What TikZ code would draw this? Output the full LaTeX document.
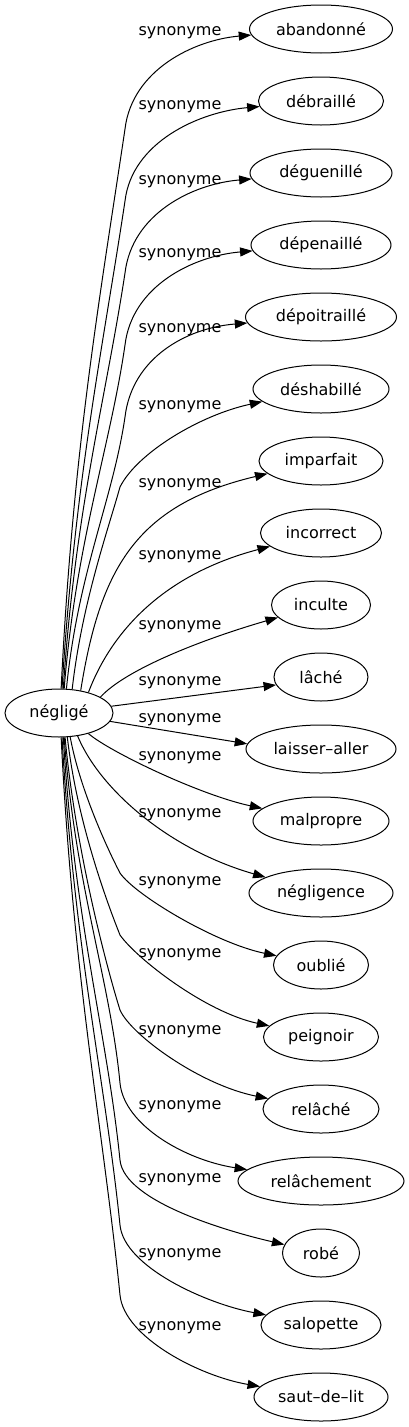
\documentclass[tikz,border=0pt]{standalone}
\usepackage{fontspec}
\setmainfont{DejaVu Sans}
\usetikzlibrary{shapes.geometric,arrows.meta}
\begin{document}
\begin{tikzpicture}[x=1pt,y=-1pt,
  box/.style={draw, ellipse, line width=1pt, minimum height=48pt, inner sep=0pt, font=\fontsize{16}{19}\selectfont},
  lbl/.style={inner sep=0pt, font=\fontsize{16}{19}\selectfont},
  syn/.style={draw, line width=1pt, -{Triangle[length=12.5pt,width=9pt]}}]
\useasboundingbox (0,0) rectangle (409,1427);
% central node
\node[box, minimum width=108pt] (neg) at (59,713) {négligé};
% targets
\node[box, minimum width=143pt] (t0)  at (321,29)   {abandonné};
\node[box, minimum width=125pt] (t1)  at (321,101)  {débraillé};
\node[box, minimum width=142pt] (t2)  at (321,173)  {déguenillé};
\node[box, minimum width=140pt] (t3)  at (321,245)  {dépenaillé};
\node[box, minimum width=151pt] (t4)  at (321,317)  {dépoitraillé};
\node[box, minimum width=136pt] (t5)  at (321,389)  {déshabillé};
\node[box, minimum width=124pt] (t6)  at (321,461)  {imparfait};
\node[box, minimum width=121pt] (t7)  at (321,533)  {incorrect};
\node[box, minimum width=99pt]  (t8)  at (321,605)  {inculte};
\node[box, minimum width=94pt]  (t9)  at (321,677)  {lâché};
\node[box, minimum width=150pt] (t10) at (321,749)  {laisser–aller};
\node[box, minimum width=136pt] (t11) at (321,821)  {malpropre};
\node[box, minimum width=144pt] (t12) at (321,893)  {négligence};
\node[box, minimum width=95pt]  (t13) at (321,965)  {oublié};
\node[box, minimum width=115pt] (t14) at (321,1037) {peignoir};
\node[box, minimum width=116pt] (t15) at (321,1109) {relâché};
\node[box, minimum width=166pt] (t16) at (321,1181) {relâchement};
\node[box, minimum width=77pt]  (t17) at (321,1253) {robé};
\node[box, minimum width=120pt] (t18) at (321,1325) {salopette};
\node[box, minimum width=134pt] (t19) at (321,1397) {saut–de–lit};
% edge labels
\node[lbl] (l0)  at (180,33)   {synonyme};
\node[lbl] (l1)  at (180,107)  {synonyme};
\node[lbl] (l2)  at (180,182)  {synonyme};
\node[lbl] (l3)  at (180,255)  {synonyme};
\node[lbl] (l4)  at (180,330)  {synonyme};
\node[lbl] (l5)  at (180,407)  {synonyme};
\node[lbl] (l6)  at (180,485)  {synonyme};
\node[lbl] (l7)  at (180,557)  {synonyme};
\node[lbl] (l8)  at (180,627)  {synonyme};
\node[lbl] (l9)  at (180,683)  {synonyme};
\node[lbl] (l10) at (180,720)  {synonyme};
\node[lbl] (l11) at (180,758)  {synonyme};
\node[lbl] (l12) at (180,815)  {synonyme};
\node[lbl] (l13) at (180,883)  {synonyme};
\node[lbl] (l14) at (180,955)  {synonyme};
\node[lbl] (l15) at (180,1032) {synonyme};
\node[lbl] (l16) at (180,1107) {synonyme};
\node[lbl] (l17) at (180,1180) {synonyme};
\node[lbl] (l18) at (180,1255) {synonyme};
\node[lbl] (l19) at (180,1328) {synonyme};
% edges (upper)
\draw[syn] (neg.85) .. controls (73,448) and (100,297) .. (125,129) .. controls (132,70) and (194,40) .. (t0);
\draw[syn] (neg.83) .. controls (75,479) and (103,347) .. (125,201) .. controls (132,142) and (199,112) .. (t1);
\draw[syn] (neg.80) .. controls (75,510) and (106,398) .. (125,273) .. controls (132,214) and (192,184) .. (t2);
\draw[syn] (neg.78) .. controls (76,541) and (110,448) .. (125,345) .. controls (132,286) and (193,256) .. (t3);
\draw[syn] (neg.73) .. controls (78,572) and (113,499) .. (125,417) .. controls (132,358) and (186,328) .. (t4);
\draw[syn] (neg.61) .. controls (82,603) and (108,530) .. (120,487) .. controls (137,453) and (200,415) .. (t5);
\draw[syn] (neg.46) .. controls (100,570) and (135,505) .. (t6);
\draw[syn] (neg.35) .. controls (112,630) and (165,574) .. (t7);
\draw[syn] (neg.21) .. controls (125,670) and (200,640) .. (t8);
\draw[syn] (neg) -- (t9.190);
% edges (lower)
\draw[syn] (neg) -- (t10.176);
\draw[syn] (neg.-35) .. controls (110,752) and (200,795) .. (t11);
\draw[syn] (neg.-51) .. controls (100,790) and (170,850) .. (t12);
\draw[syn] (neg.-65) .. controls (80,790) and (108,850) .. (120,873) .. controls (135,895) and (215,943) .. (t13);
\draw[syn] (neg.-71) .. controls (77,822) and (108,905) .. (120,935) .. controls (136,958) and (205,1012) .. (t14);
\draw[syn] (neg.-76) .. controls (76,855) and (109,975) .. (120,1010) .. controls (131,1035) and (200,1085) .. (t15);
\draw[syn] (neg.-78) .. controls (75,886) and (110,979) .. (120,1083) .. controls (124,1125) and (185,1160) .. (t16);
\draw[syn] (neg.-80.5) .. controls (74,919) and (107,1033) .. (120,1160) .. controls (124,1202) and (230,1232) .. (t17);
\draw[syn] (neg.-83) .. controls (74,947) and (105,1079) .. (120,1225) .. controls (124,1267) and (207,1304) .. (t18);
\draw[syn] (neg.-85) .. controls (73,977) and (103,1128) .. (120,1295) .. controls (124,1337) and (199,1376) .. (t19);
\end{tikzpicture}
\end{document}
